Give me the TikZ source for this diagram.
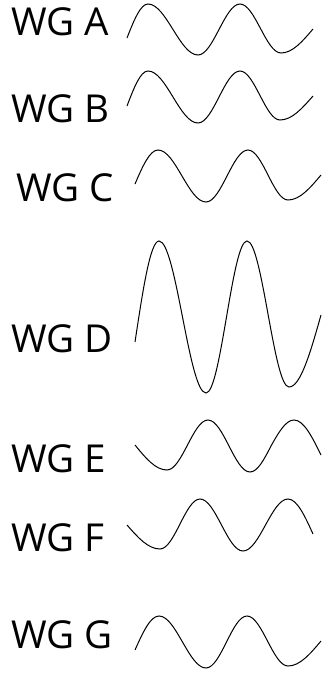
\documentclass[tikz,border=0pt]{standalone}
\usepackage{fontspec}
\setmainfont{Open Sans}
\usepackage{tikz}
\usetikzlibrary{positioning}
\tikzset{
    % Label and wave styles
    wg label/.style={
        anchor=base west,
        inner sep=0pt,
        font=\fontsize{38.5}{38.5}\selectfont
    },
    wave/.style={
        line width=1pt,
        black
    }
}
\begin{document}
\begin{tikzpicture}[x=1pt, y=-1pt]
        \useasboundingbox (0,0) rectangle (323,673);

        % Labels
        \node[wg label] (wga) at (11,35) {WG A};
        \node[wg label] (wgb) at (11,122) {WG B};
        \node[wg label] (wgc) at (16,201) {WG C};
        \node[wg label] (wgd) at (11,352) {WG D};
        \node[wg label] (wge) at (11,472) {WG E};
        \node[wg label] (wgf) at (11,551) {WG F};
        \node[wg label] (wgg) at (11,648) {WG G};

        % Waves
        \draw[wave] (127,38) sin (148,4) cos (173,29.5) sin (198,55) cos (219,29.5)
            sin (240,4) cos (260.5,28.5) sin (281,53) cos (313,29);
        \draw[wave] (127,106) sin (148,71) cos (173,97) sin (198,123) cos (219,97)
            sin (240,71) cos (260,95.5) sin (280,120) cos (313,96);
        \draw[wave] (135,184) sin (158,150) cos (182,176) sin (206,202) cos (227,176)
            sin (248,150) cos (268,175) sin (288,200) cos (321,175);
        \draw[wave] (135,342) sin (159,241) cos (182.5,317) sin (206,393) cos (226.5,317)
            sin (247,241) cos (268,314) sin (289,387) cos (321,315);
        \draw[wave] (135,445) sin (167,470) cos (187.5,445) sin (208,420) cos (229,446)
            sin (250,472) cos (271,446) sin (294,420) cos (321,455);
        \draw[wave] (127,525) sin (160,549) cos (180,524) sin (200,499) cos (221.5,525)
            sin (243,551) cos (265.5,525) sin (288,499) cos (313,534);
        \draw[wave] (135,650) sin (159,616) cos (182.5,642) sin (206,668) cos (226.5,642)
            sin (247,616) cos (267.5,641) sin (288,666) cos (321,641);
    \end{tikzpicture}
\end{document}
